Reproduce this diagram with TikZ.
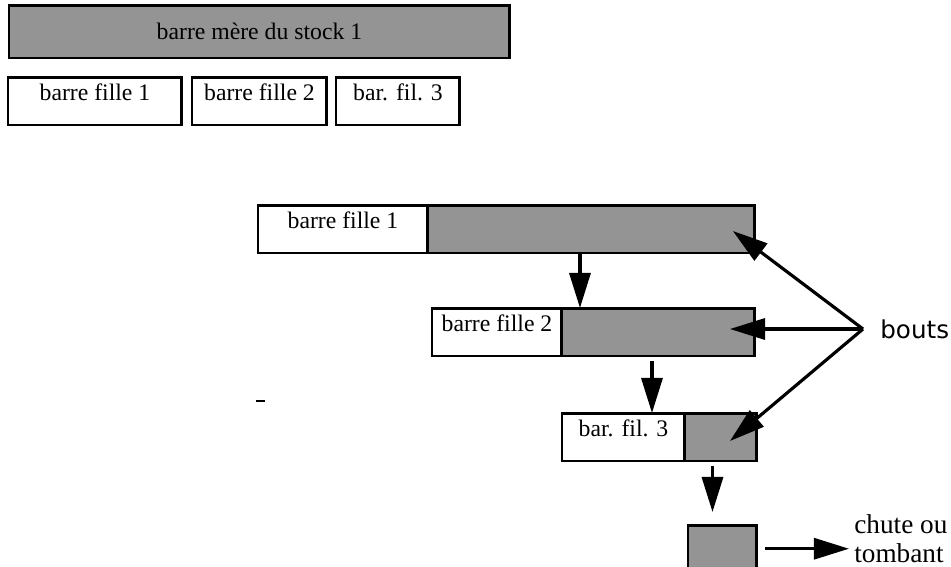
\documentclass[tikz,border=0pt]{standalone}
\usepackage{fontspec}
\setmainfont{Liberation Serif}
\newfontfamily\boutsfont{DejaVu Sans}
\usetikzlibrary{positioning,arrows.meta}

\tikzset{
	barre/.style={draw, line width=1.7pt, inner sep=0pt, outer sep=0pt, anchor=north west,
		font=\fontsize{13.5}{15}\selectfont},
	partie/.style={barre, text height=13pt, text depth=14pt, minimum height=0.96cm},
	bout/.style={partie, fill=black!42},
	fleche/.style={line width=1.8pt, -{Triangle[length=20pt, width=12pt]}},
}

\begin{document}
\begin{tikzpicture}[x=0.02cm, y=-0.02cm]
	\useasboundingbox (0, 0) rectangle (951, 566);
	% barre mere et barres filles
	\node [barre, fill=black!42, minimum width=10.02cm, minimum height=1.06cm] (mere) at (9, 5) {barre mère du stock 1};
	\node [partie, minimum width=3.48cm] (f1) at (8, 77) {barre fille 1};
	\node [partie, minimum width=2.70cm] (f2) at (192, 77) {barre fille 2};
	\node [partie, minimum width=2.48cm] (f3) at (336, 77) {bar. fil. 3};

	% decoupes successives
	\node [partie, minimum width=3.40cm] (b1w) at (258, 205) {barre fille 1};
	\node [bout, minimum width=6.54cm, right=0pt of b1w.north east, anchor=north west] (b1g) {};
	\node [partie, minimum width=2.60cm] (b2w) at (432, 308) {barre fille 2};
	\node [bout, minimum width=3.86cm, right=0pt of b2w.north east, anchor=north west] (b2g) {};
	\node [partie, minimum width=2.46cm] (b3w) at (562, 413) {bar. fil. 3};
	\node [bout, minimum width=1.44cm, right=0pt of b3w.north east, anchor=north west] (b3g) {};
	\node [bout, minimum width=1.38cm, minimum height=0.92cm] (chute) at (688, 525) {};

	\draw [fleche] ([xshift=0.36cm]b2g.north west |- b1g.south) -- ([xshift=0.36cm]b2g.north west);
	\draw [fleche, shorten <=3pt] ([xshift=1.8cm]b3w.north west |- b2g.south) -- ([xshift=1.8cm]b3w.north west);
	\draw [fleche, shorten <=3pt, shorten >=0.26cm] ([xshift=-0.2cm]chute.north |- b3g.south) -- ([xshift=-0.2cm]chute.north);

	% textes a droite
	\node [anchor=west, inner sep=0pt, font=\boutsfont\fontsize{14}{16}\selectfont] (bouts) at (880, 329) {bouts};
	\coordinate (sommet) at ([xshift=-0.34cm]bouts.west);
	\draw [fleche] (sommet) -- ([xshift=-0.44cm, yshift=-0.04cm]b1g.east);
	\draw [fleche] (sommet) -- ([xshift=-0.5cm]b2g.east |- sommet);
	\draw [fleche] (sommet) -- ([xshift=-0.54cm, yshift=-0.08cm]b3g.east);

	\node [anchor=north west, inner sep=0pt, align=left, font=\fontsize{15.5}{16.5}\selectfont] (texte) at (854, 514) {chute ou\\tombant};
	\draw [fleche, shorten <=0.16cm, shorten >=0.1cm] (chute.east) -- (chute.east -| texte.west);

	\draw [line width=1.2pt] (256, 401) -- (265, 401);
\end{tikzpicture}
\end{document}
